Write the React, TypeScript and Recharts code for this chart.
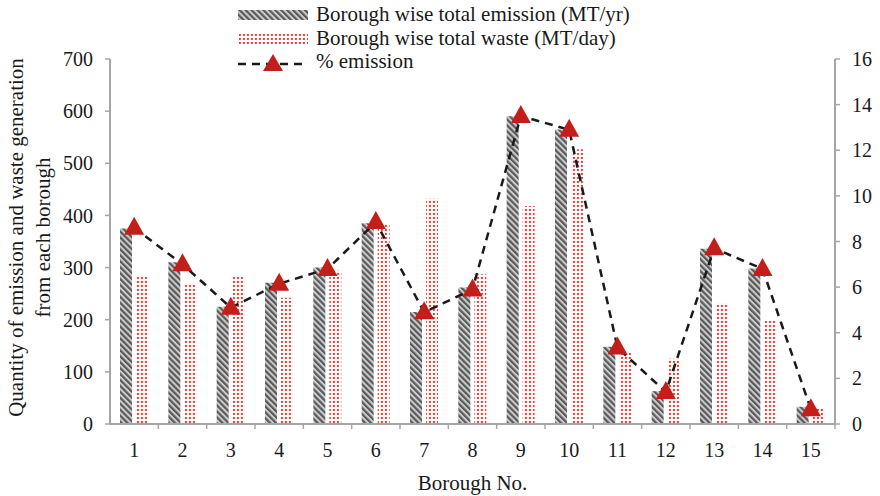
import { ComposedChart, Bar, Line, XAxis, YAxis, Legend, Label } from "recharts"

const boroughs = ["1", "2", "3", "4", "5", "6", "7", "8", "9", "10", "11", "12", "13", "14", "15"]
const emission = [375, 310, 225, 271, 300, 385, 215, 262, 590, 565, 148, 63, 336, 298, 33]
const waste = [285, 269, 285, 242, 294, 382, 432, 287, 418, 527, 140, 125, 232, 198, 30]
const pctEmission = [8.6, 7.0, 5.1, 6.15, 6.8, 8.85, 4.9, 5.9, 13.5, 12.9, 3.35, 1.4, 7.7, 6.8, 0.65]
const leftTicks = [0, 100, 200, 300, 400, 500, 600, 700]
const rightTicks = [0, 2, 4, 6, 8, 10, 12, 14, 16]

const data = boroughs.map((name, i) => ({
  name,
  emission: emission[i],
  waste: waste[i],
  pct: pctEmission[i],
}))

const FONT = '"Liberation Serif", "Times New Roman", serif'
const AXIS = "#a6a6a6"
const TEXT = "#1a1a1a"
const RED = "#c41e1a"
const PLOT_W = 725
const BAND = PLOT_W / boroughs.length

function Patterns({ prefix }: { prefix: string }) {
  return (
    <defs>
      <pattern id={`${prefix}hatch`} width="4.2" height="4.2" patternUnits="userSpaceOnUse" patternTransform="rotate(-45)">
        <rect width="4.2" height="4.2" fill="#c4c4c4" />
        <rect width="2.2" height="4.2" fill="#3c3c3c" />
      </pattern>
      <pattern id={`${prefix}dots`} width="4" height="4" patternUnits="userSpaceOnUse">
        <rect width="4" height="4" fill="#fff6f6" />
        <rect x="1" y="1" width="1.9" height="1.9" fill="#e43a36" />
      </pattern>
    </defs>
  )
}

function Triangle(props: any) {
  const { cx, cy } = props
  if (cx == null || cy == null) return null
  return <polygon points={`${cx},${cy - 11} ${cx + 10},${cy + 7} ${cx - 10},${cy + 7}`} fill={RED} />
}

function XTick(props: any) {
  const { x, y, payload } = props
  return (
    <g>
      <line x1={x + BAND / 2} x2={x + BAND / 2} y1={y} y2={y + 5} stroke={AXIS} strokeWidth={1.5} />
      <text x={x} y={y + 33} textAnchor="middle" fontSize={20} fontFamily={FONT} fill={TEXT}>
        {payload.value}
      </text>
    </g>
  )
}

function LegendBox() {
  const row = { display: "flex", alignItems: "center", height: 23.5 } as const
  const txt = { marginLeft: 8, whiteSpace: "nowrap" } as const
  return (
    <div style={{ fontFamily: FONT, fontSize: 21, color: TEXT, lineHeight: "23.5px" }}>
      <svg width={0} height={0} style={{ position: "absolute" }}>
        <Patterns prefix="lg-" />
      </svg>
      <div style={row}>
        <svg width={70} height={10}>
          <rect width={70} height={10} fill="url(#lg-hatch)" opacity={0.85} />
        </svg>
        <span style={txt}>Borough wise total emission (MT/yr)</span>
      </div>
      <div style={row}>
        <svg width={70} height={11}>
          <rect width={70} height={11} fill="url(#lg-dots)" />
        </svg>
        <span style={txt}>Borough wise total waste (MT/day)</span>
      </div>
      <div style={row}>
        <svg width={70} height={20}>
          <line x1={0} x2={70} y1={12} y2={12} stroke={TEXT} strokeWidth={2.5} strokeDasharray="8 6" />
          <polygon points="35,2 45,19 25,19" fill={RED} />
        </svg>
        <span style={txt}>% emission</span>
      </div>
    </div>
  )
}

function YLabel(props: any) {
  const vb = props.viewBox || { y: 59, height: 365 }
  const cy = vb.y + vb.height / 2
  return (
    <g fontFamily={FONT} fontSize={21} fill={TEXT} textAnchor="middle">
      <text transform={`translate(23, ${cy - 4}) rotate(-90)`}>Quantity of emission and waste generation</text>
      <text transform={`translate(50, ${cy - 4}) rotate(-90)`}>from each borough</text>
    </g>
  )
}

export default function App() {
  return (
    <div style={{ position: "absolute", left: 0, top: 0, width: 880, height: 496, background: "#fff" }}>
      <ComposedChart
        width={880}
        height={496}
        data={data}
        margin={{ top: 59, right: 0, bottom: 0, left: 0 }}
        barSize={12}
        barGap={4}
      >
        <Patterns prefix="" />
        <XAxis
          dataKey="name"
          height={72}
          tickSize={0}
          tickMargin={0}
          tick={<XTick />}
          axisLine={{ stroke: AXIS, strokeWidth: 2 }}
          tickLine={false}
          interval={0}
        >
          <Label
            value="Borough No."
            position="insideBottom"
            offset={6}
            style={{ fontFamily: FONT, fontSize: 21, fill: TEXT }}
          />
        </XAxis>
        <YAxis
          yAxisId="left"
          width={110}
          domain={[0, 700]}
          ticks={leftTicks}
          tickSize={5}
          tickMargin={12}
          axisLine={{ stroke: AXIS, strokeWidth: 2 }}
          tickLine={{ stroke: AXIS, strokeWidth: 1.5 }}
          tick={{ fontFamily: FONT, fontSize: 20, fill: TEXT }}
        >
          <Label content={<YLabel />} />
        </YAxis>
        <YAxis
          yAxisId="right"
          orientation="right"
          width={45}
          domain={[0, 16]}
          ticks={rightTicks}
          tickSize={5}
          tickMargin={12}
          axisLine={{ stroke: AXIS, strokeWidth: 2 }}
          tickLine={{ stroke: AXIS, strokeWidth: 1.5 }}
          tick={{ fontFamily: FONT, fontSize: 20, fill: TEXT, textAnchor: "start" }}
        />
        <Legend
          layout="vertical"
          align="center"
          verticalAlign="middle"
          wrapperStyle={{ top: 3, left: 238, width: 440 }}
          content={<LegendBox />}
        />
        <Bar yAxisId="left" dataKey="emission" fill="url(#hatch)" fillOpacity={0.85} isAnimationActive={false} />
        <Bar yAxisId="left" dataKey="waste" fill="url(#dots)" isAnimationActive={false} />
        <Line
          yAxisId="right"
          dataKey="pct"
          stroke={TEXT}
          strokeWidth={2.5}
          strokeDasharray="8 6"
          dot={<Triangle />}
          activeDot={false}
          isAnimationActive={false}
        />
      </ComposedChart>
    </div>
  )
}
